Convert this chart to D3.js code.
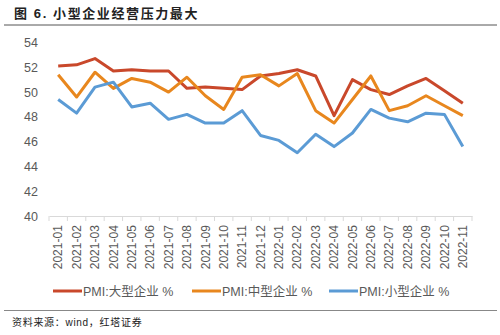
<!DOCTYPE html>
<html><head><meta charset="utf-8">
<script src="https://cdn.jsdelivr.net/npm/d3@7"></script>
<style>body{margin:0;background:#fff}svg{display:block}</style>
</head><body><svg id="c" width="500" height="335"></svg>
<script>
const categories = ["2021-01","2021-02","2021-03","2021-04","2021-05","2021-06","2021-07","2021-08","2021-09","2021-10","2021-11","2021-12","2022-01","2022-02","2022-03","2022-04","2022-05","2022-06","2022-07","2022-08","2022-09","2022-10","2022-11"];
const large  = [52.1,52.2,52.7,51.7,51.8,51.7,51.7,50.3,50.4,50.3,50.2,51.3,51.5,51.8,51.3,48.1,51.0,50.2,49.8,50.5,51.1,50.1,49.1];
const medium = [51.4,49.6,51.6,50.3,51.1,50.8,50.0,51.2,49.7,48.6,51.2,51.4,50.5,51.5,48.5,47.5,49.4,51.3,48.5,48.9,49.7,48.9,48.1];
const small  = [49.4,48.3,50.4,50.8,48.8,49.1,47.8,48.2,47.5,47.5,48.5,46.5,46.1,45.1,46.6,45.6,46.7,48.6,47.9,47.6,48.3,48.2,45.6];
const seriesNames = ["PMI:大型企业 %","PMI:中型企业 %","PMI:小型企业 %"];
const colors = ["#C9482B","#E8871E","#5B9BD5"];
const yTicks = [40,42,44,46,48,50,52,54];

const svg = d3.select("#c");
const font = "Arial, 'Liberation Sans', 'Noto Sans CJK SC', sans-serif";

// title
svg.append("text").attr("x",14).attr("y",18).attr("font-family",font)
  .attr("font-size",13).attr("font-weight","bold").attr("fill","#222")
  .attr("letter-spacing",1.6)
  .text("图 6. 小型企业经营压力最大");
svg.append("line").attr("x1",4).attr("x2",497).attr("y1",25).attr("y2",25)
  .attr("stroke","#555").attr("stroke-width",1);

const x = d3.scaleBand().domain(categories).range([49,472]);
const y = d3.scaleLinear().domain([40,54]).range([216,42.5]);

// y labels
const yAxis = svg.append("g").attr("transform","translate(49,0)")
  .call(d3.axisLeft(y).tickValues(yTicks).tickSize(0).tickPadding(11));
yAxis.select(".domain").remove();
yAxis.selectAll("text").attr("font-family",font).attr("font-size",12.5).attr("fill","#595959");

// x axis
const xAxis = svg.append("g").attr("transform","translate(0,216)")
  .call(d3.axisBottom(x).tickSize(0).tickPadding(0));
xAxis.select(".domain").attr("stroke","#d9d9d9");
xAxis.selectAll("text").attr("font-family",font).attr("font-size",12).attr("fill","#595959")
  .attr("transform","rotate(-90)").attr("text-anchor","end")
  .attr("dx","-0.6em").attr("dy","0.35em").attr("y",0).attr("x",-2);
// boundary ticks
const bounds = categories.map(c=>x(c)).concat([x.range()[1]]);
svg.append("g").selectAll("line").data(bounds).join("line")
  .attr("x1",d=>d).attr("x2",d=>d).attr("y1",216).attr("y2",221)
  .attr("stroke","#d9d9d9");

const line = d3.line().x((d,i)=>x(categories[i])+x.bandwidth()/2).y(d=>y(d));
[large,medium,small].forEach((s,k)=>{
  svg.append("path").datum(s).attr("d",line).attr("fill","none")
    .attr("stroke",colors[k]).attr("stroke-width",3).attr("stroke-linejoin","round");
});

// legend
const legX = [53,192,329];
seriesNames.forEach((n,k)=>{
  svg.append("line").attr("x1",legX[k]).attr("x2",legX[k]+29).attr("y1",291).attr("y2",291)
    .attr("stroke",colors[k]).attr("stroke-width",3);
  svg.append("text").attr("x",legX[k]+30).attr("y",295.5).attr("font-family",font)
    .attr("font-size",12.5).attr("fill","#595959").text(n);
});

svg.append("line").attr("x1",4).attr("x2",497).attr("y1",310.5).attr("y2",310.5)
  .attr("stroke","#888").attr("stroke-width",1);
svg.append("text").attr("x",12).attr("y",326).attr("font-family",font)
  .attr("font-size",10).attr("fill","#222").attr("letter-spacing",0.7).text("资料来源：wind，红塔证券");
</script></body></html>
